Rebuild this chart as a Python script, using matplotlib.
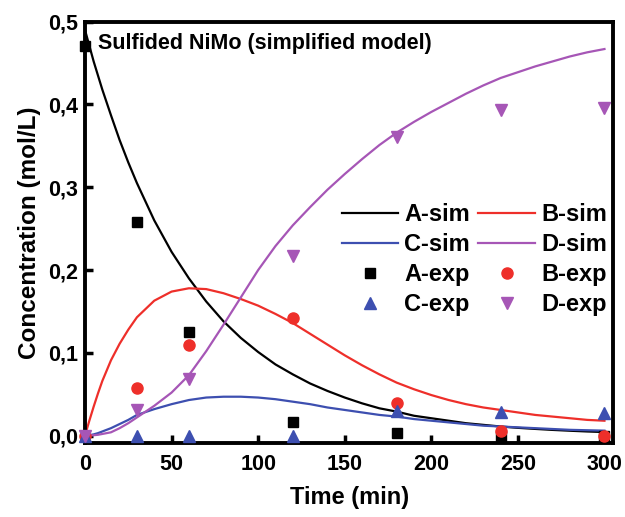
import matplotlib
matplotlib.use("Agg")
import matplotlib.pyplot as plt

plt.rcParams['font.family'] = ['Liberation Sans', 'DejaVu Sans']
plt.rcParams['font.weight'] = 'bold'

# Simulated curves
t_sim = [0, 2.5, 5, 7.5, 10, 15, 20, 25, 30, 40, 50, 60, 70, 80, 90, 100, 110, 120,
         130, 140, 150, 160, 170, 180, 190, 200, 210, 220, 230, 240, 250, 260, 270,
         280, 290, 300]
A_sim = [0.490, 0.471, 0.452, 0.435, 0.418, 0.387, 0.357, 0.330, 0.305,
         0.260, 0.222, 0.190, 0.162, 0.138, 0.118, 0.101, 0.086, 0.074, 0.063, 0.054,
         0.046, 0.039, 0.033, 0.029, 0.024, 0.021, 0.018, 0.015, 0.013, 0.011, 0.0094,
         0.0081, 0.0069, 0.0059, 0.0050, 0.0043]
B_sim = [0.0, 0.018, 0.035, 0.051, 0.066, 0.091, 0.111, 0.128, 0.143,
         0.163, 0.174, 0.178, 0.177, 0.172, 0.165, 0.157, 0.147, 0.136, 0.123, 0.110,
         0.097, 0.085, 0.074, 0.064, 0.056, 0.049, 0.043, 0.038, 0.034, 0.031, 0.028,
         0.025, 0.023, 0.021, 0.019, 0.018]
C_sim = [0.0, 0.0005, 0.0015, 0.003, 0.005, 0.009, 0.014, 0.019, 0.025,
         0.032, 0.038, 0.043, 0.046, 0.047, 0.047, 0.046, 0.044, 0.041, 0.038, 0.034,
         0.031, 0.028, 0.025, 0.023, 0.020, 0.018, 0.016, 0.014, 0.012, 0.011, 0.010,
         0.009, 0.008, 0.007, 0.0065, 0.006]
D_sim = [0.0, 0.0001, 0.0005, 0.001, 0.002, 0.004, 0.009, 0.015, 0.022,
         0.036, 0.052, 0.073, 0.102, 0.134, 0.167, 0.200, 0.229, 0.254, 0.276, 0.297,
         0.316, 0.334, 0.351, 0.366, 0.379, 0.391, 0.402, 0.413, 0.423, 0.432, 0.439,
         0.446, 0.452, 0.458, 0.463, 0.467]

# Experimental points
t_exp = [0, 30, 60, 120, 180, 240, 300]
A_exp = [0.471, 0.258, 0.125, 0.017, 0.003, 0.0, 0.0]
B_exp = [0.0, 0.058, 0.110, 0.142, 0.040, 0.005, 0.0]
C_exp = [0.0, 0.0, 0.0, 0.0, 0.030, 0.029, 0.027]
D_exp = [0.0, 0.031, 0.068, 0.217, 0.361, 0.393, 0.396]

xticks = [0, 50, 100, 150, 200, 250, 300]
yticks = [0.0, 0.1, 0.2, 0.3, 0.4, 0.5]
ytick_labels = ['0,0', '0,1', '0,2', '0,3', '0,4', '0,5']

c_A = 'black'
c_B = '#ee2f2a'
c_C = '#3d4fb0'
c_D = '#a656b6'

fig = plt.figure(figsize=(6.25, 5.17), dpi=100)
ax = fig.add_axes([0.136, 0.143, 0.845, 0.815])

lA, = ax.plot(t_sim, A_sim, color=c_A, lw=1.6, label='A-sim')
lB, = ax.plot(t_sim, B_sim, color=c_B, lw=1.6, label='B-sim')
lC, = ax.plot(t_sim, C_sim, color=c_C, lw=1.6, label='C-sim')
lD, = ax.plot(t_sim, D_sim, color=c_D, lw=1.6, label='D-sim')

mA, = ax.plot(t_exp, A_exp, 's', color=c_A, ms=7, ls='none', label='A-exp', clip_on=False, zorder=5)
mB, = ax.plot(t_exp, B_exp, 'o', color=c_B, ms=8, ls='none', label='B-exp', clip_on=False, zorder=5)
mC, = ax.plot(t_exp, C_exp, '^', color=c_C, ms=8.5, ls='none', label='C-exp', clip_on=False, zorder=5)
mD, = ax.plot(t_exp, D_exp, 'v', color=c_D, ms=8.5, ls='none', label='D-exp', clip_on=False, zorder=5)

ax.set_xlim(0, 305)
ax.set_ylim(-0.009, 0.5)
ax.set_xticks(xticks)
ax.set_yticks(yticks)
ax.set_yticklabels(ytick_labels)
ax.tick_params(direction='in', length=6, width=2.5, labelsize=15.5)
ax.tick_params(axis='x', pad=8)
ax.tick_params(axis='y', pad=5)
for lab in ax.get_xticklabels() + ax.get_yticklabels():
    lab.set_fontweight('bold')
for s in ax.spines.values():
    s.set_linewidth(2.8)

ax.set_xlabel('Time (min)', fontsize=17, fontweight='bold', labelpad=8)
ax.set_ylabel('Concentration (mol/L)', fontsize=17.5, fontweight='bold', labelpad=5)

ax.text(0.025, 0.973, 'Sulfided NiMo (simplified model)', transform=ax.transAxes,
        fontsize=15.5, fontweight='bold', va='top', ha='left')

handles = [lA, lC, mA, mC, lB, lD, mB, mD]
labels = [h.get_label() for h in handles]
leg = ax.legend(handles, labels, ncol=2, loc='lower right', bbox_to_anchor=(0.997, 0.29),
                frameon=False, fontsize=17, handlelength=2.4, handletextpad=0.25,
                columnspacing=0.35, labelspacing=0.3, borderaxespad=0.0, borderpad=0.2)
for txt in leg.get_texts():
    txt.set_fontweight('bold')

fig.savefig('out.png', dpi=100)
